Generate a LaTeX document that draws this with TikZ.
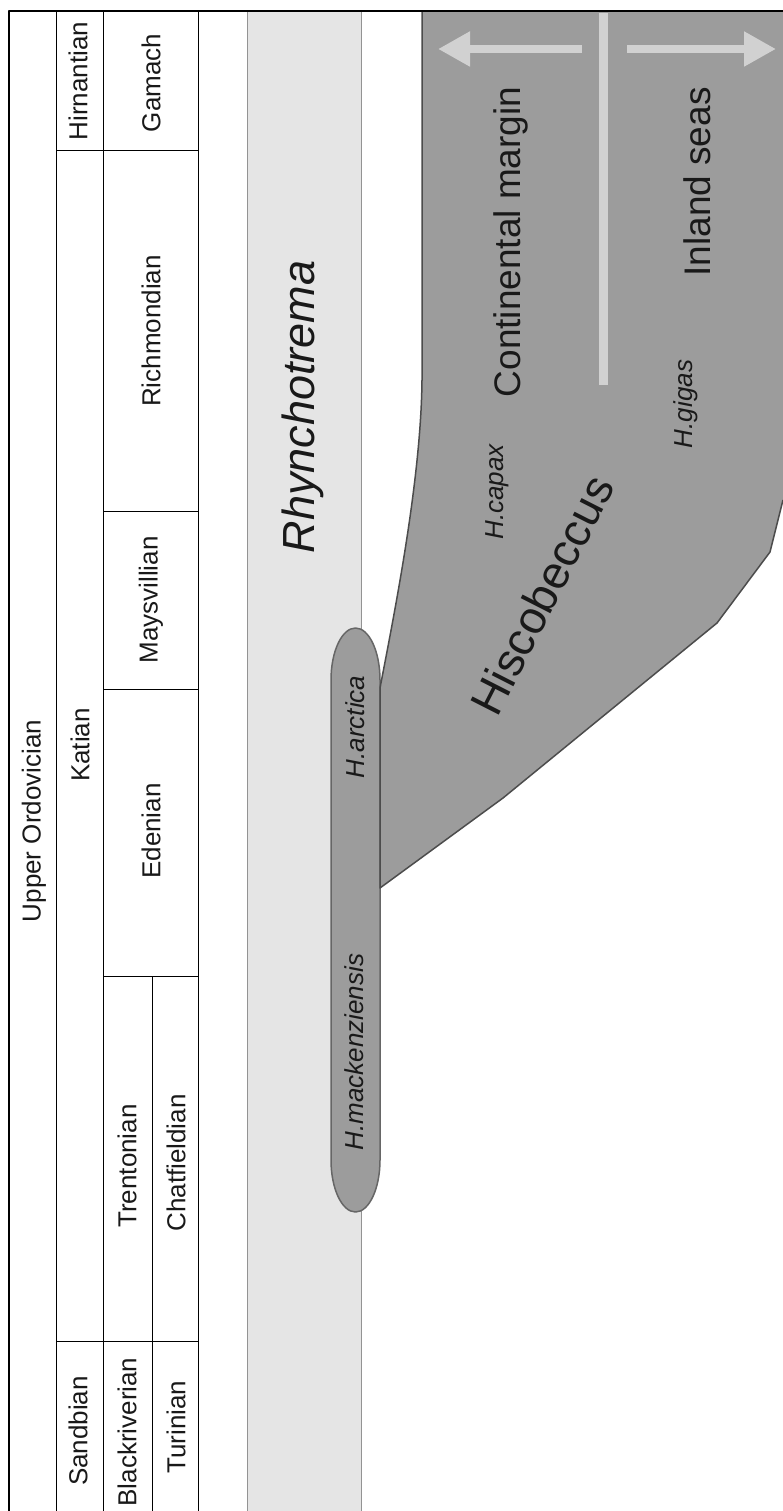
\documentclass[tikz,border=0pt]{standalone}
\usepackage{fontspec}
\setmainfont{Liberation Sans}
\usetikzlibrary{arrows.meta}
\definecolor{band}{gray}{0.90}
\definecolor{genus}{gray}{0.61}
\definecolor{edge}{gray}{0.30}
\definecolor{pale}{gray}{0.82}
\definecolor{ink}{gray}{0.10}
\tikzset{
  stage/.style={rotate=90,inner sep=0pt,text=ink,font=\fontsize{26}{26}\selectfont},
  taxon/.style={stage,font=\fontsize{26}{26}\selectfont\itshape},
  trend/.style={pale,line width=8pt,-{Triangle[length=32pt,width=33pt]}},
}
\begin{document}
\begin{tikzpicture}[x=1pt,y=-1pt,line join=round]
\useasboundingbox[fill=white] (0,0) rectangle (783,1511);
\draw[fill=band,draw=gray!85,line width=1pt] (247,11) rectangle (361,1511);
\draw[fill=genus,draw=gray!80!black,line width=1.5pt] (331,1160) -- (331,680)
  arc[start angle=180,end angle=360,x radius=24.5,y radius=52] -- (380,1160)
  arc[start angle=0,end angle=180,x radius=24.5,y radius=52] -- cycle;
\fill[genus] (422,11) -- (422,380) .. controls (421,480) and (395,610) .. (380,688) -- (380,888)
  -- (503,798) -- (717,623) -- (770,552) -- (783,500) -- (783,11) -- cycle;
\draw[edge,line width=1.5pt] (422,11) -- (422,380) .. controls (421,480) and (395,610) .. (380,688) -- (380,888)
  -- (503,798) -- (717,623) -- (770,552) -- (783,500);
\draw[line width=1pt] (56,11) -- (56,1511) (103,11) -- (103,1511) (198,11) -- (198,1511) (152,976) -- (152,1511);
\draw[line width=1pt] (56,151) -- (198,151) (56,1341) -- (198,1341);
\foreach \y in {511,689,976} \draw[line width=1pt] (103,\y) -- (198,\y);
\draw[line width=2.5pt] (9,1511) -- (9,11) -- (783,11);
\foreach \x/\y/\n/\t in {34/821/uo/Upper Ordovician, 78/81/hirn/Hirnantian, 80/745/kat/Katian,
  78/1431/sand/Sandbian, 151/83/gam/Gamach, 151/331/rich/Richmondian, 151/600/mays/Maysvillian,
  151/831/eden/Edenian, 127/1166/tren/Trentonian, 176/1163/chat/Chatfieldian,
  127/1432/black/Blackriverian, 176/1427/tur/Turinian}
  \node[stage] (\n) at (\x,\y) {\t};
\node[taxon,font=\fontsize{45}{45}\selectfont\itshape] (rhyn) at (303,407) {Rhynchotrema};
\node[taxon] (arct) at (355,727) {H.arctica};
\node[taxon] (mack) at (354,1052) {H.mackenziensis};
\node[taxon] (capax) at (497,492) {H.capax};
\node[taxon] (gigas) at (686,404) {H.gigas};
\node[rotate=63,inner sep=0pt,text=ink,font=\fontsize{46}{46}\selectfont] (hisco) at (542,595) {Hiscobeccus};
\node[stage,font=\fontsize{37}{37}\selectfont] (margin) at (511,242) {Continental margin};
\node[stage,font=\fontsize{37}{37}\selectfont] (inland) at (697,182) {Inland seas};
\coordinate (top) at (603,13);
\coordinate (foot) at (603,385);
\coordinate (fromL) at (582,49);
\coordinate (fromR) at (627,49);
\coordinate (tipL) at (438,49);
\coordinate (tipR) at (776,49);
\draw[pale,line width=9pt] (top) -- (foot);
\draw[trend] (fromL) -- (tipL);
\draw[trend] (fromR) -- (tipR);
\end{tikzpicture}
\end{document}
